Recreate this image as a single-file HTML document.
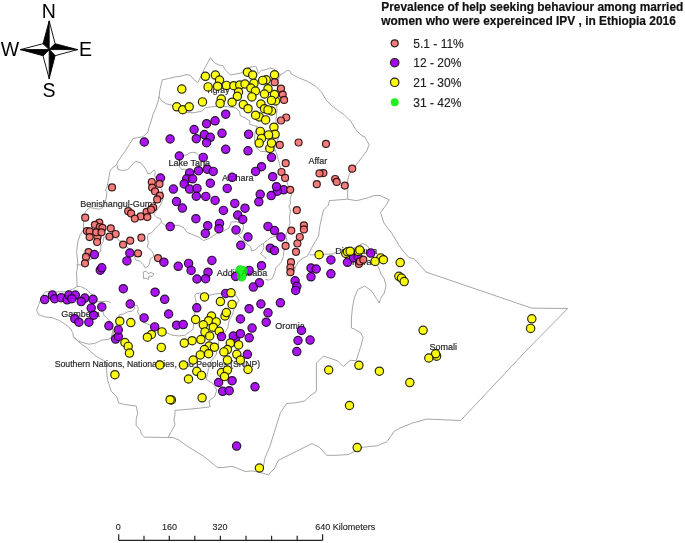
<!DOCTYPE html>
<html><head><meta charset="utf-8"><style>
html,body{margin:0;padding:0;background:#fff;width:685px;height:543px;overflow:hidden}
svg{position:absolute;left:0;top:0}
text{font-family:"Liberation Sans",Arial,sans-serif}
.d circle{opacity:.92}
</style></head><body>
<svg width="685" height="543" viewBox="0 0 685 543">
<g fill="none" stroke="#9c9c9c" stroke-width="0.9" stroke-linejoin="round">
<path d="M150.8,122.1 L153.0,114.7 L156.7,105.9 L158.7,98.9 L160.2,88.6 L162.4,79.8 L168.3,78.6 L175.7,76.8 L181.5,76.1 L186.0,74.6 L190.4,75.3 L193.3,79.0 L197.7,82.7 L202.2,73.9 L204.2,69.4 L210.3,57.7 L214.4,62.8 L219.5,65.3 L222.6,65.3 L225.7,70.4 L230.3,75.0 L235.9,74.0 L241.0,73.0 L244.5,71.0 L248.6,67.7 L254.3,66.4 L256.3,66.9 L258.4,73.5 L261.4,70.4 L265.0,69.9 L269.8,68.0 L273.3,68.8 L276.8,71.2 L280.4,74.7 L283.9,73.0 L286.2,70.7 L289.7,70.7 L291.5,74.2 L298.5,77.7 L307.2,81.2 L316.0,86.5 L321.2,91.7 L326.5,100.5 L331.7,105.7 L338.7,111.0 L343.9,114.5 L350.9,121.5 L356.2,130.2 L361.4,135.4 L364.9,137.2 L369.1,144.7 L366.9,150.6 L362.5,156.5 L358.1,162.4 L353.6,168.3 L349.2,174.2 L347.7,180.1 L347.7,188.9 L347.7,199.2 L356.6,200.7 L362.5,199.2 L368.4,197.7 L374.3,195.5 L380.0,195.5 L389.2,199.7 L386.4,204.8 L380.5,212.5 L383.8,222.8 L391.6,233.1 L396.0,240.0 L399.3,246.0 L403.6,251.5 L408.9,257.5 L414.2,258.8 L426.0,272.0 L531.5,308.1 L567.7,308.5 L526.9,350.0 L460.6,420.5 L426.4,419.1 L411.5,423.4 L400.0,428.0 L394.0,431.3 L390.5,436.6 L387.0,441.8 L380.0,444.5 L377.7,445.7 L363.1,447.2 L354.3,451.5 L348.5,454.5 L336.8,455.3 L326.6,455.3 L319.3,447.2 L312.0,443.6 L293.0,453.0 L278.4,460.3 L274.1,468.9 L270.2,472.9 L268.8,474.8 L263.6,473.5 L255.7,471.5 L251.8,470.9 L245.2,471.5 L237.3,468.3 L232.0,466.3 L222.9,467.6 L217.6,467.6 L203.1,455.8 L190.0,448.0 L182.5,442.8 L179.0,440.1 L172.9,437.5 L167.7,437.5 L144.4,437.1 L141.4,434.0 L140.5,430.5 L136.1,425.3 L136.2,419.2 L137.7,413.3 L136.2,406.0 L124.5,404.5 L118.6,403.0 L117.1,397.1 L111.2,391.2 L107.5,379.5 L106.6,370.7 L106.6,363.3 L103.6,360.4 L99.2,358.2 L94.8,355.2 L90.4,351.5 L86.0,347.1 L81.5,344.2 L77.1,340.5 L73.4,336.8 L72.7,332.4 L69.8,328.0 L65.3,324.3 L59.5,320.6 L52.1,317.7 L44.7,316.9 L38.8,314.7 L36.6,310.3 L38.8,304.4 L41.8,296.0 L45.3,291.8 L53.6,291.8 L59.4,291.8 L65.3,291.8 L72.4,289.4 L77.1,286.5 L76.6,272.9 L77.8,263.3 L76.6,251.3 L77.8,241.8 L80.2,234.6 L83.5,229.7 L83.5,224.0 L84.3,213.6 L86.6,210.3 L90.0,207.5 L95.0,208.5 L99.8,209.2 L102.0,208.0 L105.3,201.4 L106.4,197.0 L107.0,191.5 L105.3,190.4 L107.0,187.1 L108.1,181.6 L109.2,176.0 L109.7,171.6 L111.9,168.3 L116.4,165.0 L117.7,161.9 L120.6,157.4 L125.0,151.5 L129.5,144.2 L133.1,138.6 L137.6,137.6 L142.7,136.8 L147.9,132.4 L148.6,128.7 L150.8,122.1"/>
<path d="M158.8,96.5 L161.8,100.9 L166.2,103.8 L172.1,105.3 L179.5,111.2 L188.3,112.7 L194.2,112.7 L201.5,111.2 L206.0,107.5 L211.9,106.8 L219.2,106.0 L228.1,106.8 L236.0,108.0 L239.5,111.5 L240.4,115.9 L244.8,117.7 L250.1,121.2 L249.3,123.9 L253.7,125.6 L257.2,126.5 L255.0,133.0 L254.5,140.0 L256.0,147.0 L260.0,151.2 L267.1,151.8 L275.3,150.6"/>
<path d="M280.4,74.7 L278.0,80.0 L277.0,90.0 L276.0,100.0 L277.0,110.0 L276.0,120.0 L276.8,132.1 L279.2,135.7 L276.8,141.6 L274.5,148.6 L276.5,153.0 L277.7,157.7 L279.4,163.6 L280.6,168.3 L283.6,174.2 L286.5,180.0 L287.7,184.8 L290.6,189.5 L291.8,194.2 L290.0,198.9 L290.6,204.0 L288.8,205.3 L290.6,211.2 L289.4,217.1 L290.0,223.0 L288.8,227.7 L286.9,232.0 L285.8,235.1 L286.9,240.2 L285.8,245.4 L284.2,249.3 L283.3,256.3 L281.5,261.6 L279.4,264.3 L275.9,267.8 L274.7,272.5 L272.4,278.4 L268.9,280.1 L265.4,279.5"/>
<path d="M347.7,199.2 L329.5,200.6 L328.3,205.3 L323.6,210.0 L321.8,217.1 L320.0,225.3 L319.2,230.5 L318.6,236.0 L315.3,241.6 L312.0,247.1 L309.8,251.5 L307.6,255.9 L303.1,258.1 L298.7,261.5 L295.4,267.0 L294.3,271.4 L290.4,273.1 L287.7,274.9 L285.9,276.6"/>
<path d="M309.8,254.8 L314.2,254.8 L318.9,255.0 L326.0,254.1 L333.0,254.1 L338.3,250.6 L343.6,249.0 L352.0,249.0 L358.0,246.0 L362.4,243.5 L366.8,245.3 L369.4,248.8 L372.0,254.0 L375.4,263.0 L379.0,268.3 L380.7,273.6 L384.3,278.9 L386.0,286.0 L384.3,293.0 L380.7,298.3 L379.2,303.0 L376.3,298.3 L371.9,291.3 L364.8,286.0 L357.8,289.5 L354.2,298.3 L352.5,307.2 L351.4,318.0 L351.4,328.0 L354.2,329.0 L360.7,332.7 L363.1,337.4 L360.7,346.7 L356.1,360.7 L350.2,360.3 L343.2,366.6 L337.4,360.7 L323.4,356.1 L316.4,363.1 L316.4,377.1 L316.4,391.4 L309.2,396.5 L304.7,401.0 L295.9,402.8 L286.6,403.5 L280.4,412.7 L275.3,429.0 L270.2,445.4 L265.1,457.7 L263.1,467.9 L262.5,472.5"/>
<path d="M184.0,155.3 L187.0,154.9 L189.1,153.1 L192.1,152.4 L195.0,152.4 L197.2,153.8 L199.0,155.5 L203.0,158.0 L205.0,163.0 L204.0,168.0 L199.0,171.0 L193.0,172.0 L186.2,170.0 L184.0,168.9 L181.8,169.7 L180.3,167.8 L178.8,165.6 L179.5,161.0 L181.5,157.5 L184.0,155.3"/>
<path d="M116.9,164.9 L117.9,169.5 L122.5,170.5 L127.6,169.5 L130.7,166.5 L133.7,162.9 L135.8,161.3 L140.9,162.9 L142.9,165.4 L146.0,169.5 L148.0,174.1 L151.1,172.6 L154.2,170.0 L155.2,171.6 L154.7,175.7 L157.0,180.0 L160.0,186.0 L162.5,192.0 L163.0,199.0 L160.5,205.0 L157.0,210.0 L153.6,214.1 L157.1,217.7 L160.6,218.6 L161.5,222.1"/>
<path d="M161.5,222.1 L164.7,225.3 L171.8,225.3 L178.8,225.3 L183.6,227.7 L187.1,232.4 L193.0,234.8 L198.9,237.1 L203.6,240.6 L209.5,238.3 L216.5,233.6 L223.6,231.2 L229.1,227.8 L231.2,222.2 L236.3,221.6 L239.4,222.7 L243.6,224.7 L243.0,229.9 L241.5,233.0 L238.4,235.1 L243.0,240.0 L247.1,244.0 L250.6,246.6 L251.5,251.0 L255.0,250.1 L258.6,246.6 L262.1,244.0 L263.4,243.5 L263.9,247.5 L262.1,251.9 L260.3,253.7 L262.1,254.6 L264.7,257.2 L266.5,259.0"/>
<path d="M263.4,243.5 L270.0,238.0 L276.0,236.0 L282.0,235.0 L285.8,235.1"/>
<path d="M161.5,222.1 L158.9,224.7 L155.3,228.3 L151.8,232.7 L148.3,234.0 L147.4,238.0 L148.3,242.4 L147.4,247.1 L152.7,251.8 L153.9,256.5 L150.4,258.8 L149.2,264.7 L145.6,268.3 L143.3,264.7 L139.8,261.2 L135.9,260.0 L134.2,256.5 L128.0,248.0 L122.7,242.0 L119.2,240.6 L116.5,238.0 L110.0,237.5 L103.7,237.1 L103.3,241.5 L101.0,245.5 L100.6,251.2 L96.0,255.0 L90.0,260.0 L84.0,264.0 L81.0,265.0 L76.5,264.8"/>
<path d="M143.3,272.0 L146.0,271.2 L148.0,273.5 L151.0,272.5 L153.9,274.0 L152.0,276.5 L149.0,276.0 L148.5,279.5 L146.0,278.0 L143.5,278.5 L143.3,272.0"/>
<path d="M77.1,286.5 L80.6,286.5 L85.4,288.8 L91.2,293.6 L95.0,298.0 L97.7,301.8 L102.0,301.5 L106.5,301.2 L110.6,302.4"/>
<path d="M102.2,309.5 L102.4,310.6 L104.1,315.3 L106.5,317.7 L108.8,320.0 L111.0,324.0 L113.0,330.0 L111.0,338.3"/>
<path d="M73.4,336.8 L78.6,341.2 L83.0,342.7 L88.9,344.2 L94.8,343.4 L97.1,342.4 L101.8,340.1 L107.7,339.5 L111.0,338.3"/>
<path d="M111.0,338.3 L115.0,330.0 L117.0,322.0 L119.4,314.7 L123.0,314.2 L127.7,311.8 L132.4,311.2 L134.8,308.3 L133.6,305.3 L137.1,305.3 L138.3,308.3 L137.7,311.8 L139.5,315.3 L141.8,318.9 L143.5,322.4 L149.4,324.8 L153.0,327.1 L157.7,329.5 L167.1,333.0 L173.0,335.4 L178.9,335.9 L184.8,335.4 L189.5,331.8 L193.0,329.5 L193.6,324.8 L193.0,318.9 L194.2,314.2 L195.4,309.4 L196.5,303.6 L195.4,298.8 L194.8,295.3 L196.5,293.5 L200.1,293.0 L204.0,295.0 L209.5,295.3 L214.2,294.1 L220.0,293.5 L226.0,292.5 L232.0,293.0 L235.6,295.0 L237.4,297.7 L239.1,300.3 L237.4,303.0 L235.6,306.5 L233.8,310.0 L232.1,315.3 L229.4,319.8 L228.5,324.2 L227.7,328.0 L224.0,334.0 L219.0,340.0 L218.0,347.0 L216.0,355.0 L211.0,361.0 L208.6,368.6 L206.2,379.2 L213.3,383.9 L216.8,389.8 L214.7,396.4 L208.9,401.0 L210.1,406.9 L200.7,408.0 L189.1,409.2 L175.0,410.4 L175.0,415.0 L173.8,420.0 L175.1,424.4 L172.9,428.8 L170.3,433.1 L168.1,437.5"/>
</g>
<g font-size="9" fill="#2a2a2a" stroke="#2a2a2a" stroke-width="0.2">
<text x="308.4" y="163.6">Affar</text>
<text x="168.6" y="166.1">Lake Tana</text>
<text x="222" y="181.0">Amhara</text>
<text x="80.2" y="206.9">Benishangul-Gumz</text>
<text x="216.8" y="275.9">Addis Ababa</text>
<text x="275.3" y="329.2">Oromia</text>
<text x="61.2" y="317.1">Gambella</text>
<text x="54.7" y="367.4" textLength="205.5" lengthAdjust="spacingAndGlyphs">Southern Nations, Nationalities, and Peoples (SNNP)</text>
<text x="429.6" y="349.6">Somali</text>
<text x="335.3" y="254.1">Dire Dawa</text>
<text x="352" y="265.1">Harari</text>
<text x="205.9" y="92.9" font-size="8.6">Tigray</text>
</g>
<g stroke-width="1.2" class="d">
<circle cx="205.4" cy="76.3" r="4.15" fill="#FFFF00" stroke="#1a1a00"/>
<circle cx="215.4" cy="75.1" r="4.15" fill="#FFFF00" stroke="#1a1a00"/>
<circle cx="219.5" cy="80.0" r="4.15" fill="#FFFF00" stroke="#1a1a00"/>
<circle cx="208.1" cy="86.9" r="4.15" fill="#FFFF00" stroke="#1a1a00"/>
<circle cx="217.6" cy="86.2" r="4.15" fill="#FFFF00" stroke="#1a1a00"/>
<circle cx="226.5" cy="85.4" r="4.15" fill="#FFFF00" stroke="#1a1a00"/>
<circle cx="181.8" cy="89.1" r="4.15" fill="#FFFF00" stroke="#1a1a00"/>
<circle cx="202.5" cy="101.9" r="4.15" fill="#FFFF00" stroke="#1a1a00"/>
<circle cx="221.3" cy="99.0" r="4.15" fill="#FFFF00" stroke="#1a1a00"/>
<circle cx="220.1" cy="103.4" r="4.15" fill="#FFFF00" stroke="#1a1a00"/>
<circle cx="176.8" cy="106.8" r="4.15" fill="#FFFF00" stroke="#1a1a00"/>
<circle cx="182.7" cy="109.7" r="4.15" fill="#FFFF00" stroke="#1a1a00"/>
<circle cx="189.2" cy="106.8" r="4.15" fill="#FFFF00" stroke="#1a1a00"/>
<circle cx="225.7" cy="114.2" r="4.15" fill="#A400F2" stroke="#1a0026"/>
<circle cx="215.1" cy="120.8" r="4.15" fill="#A400F2" stroke="#1a0026"/>
<circle cx="206.6" cy="123.7" r="4.15" fill="#A400F2" stroke="#1a0026"/>
<circle cx="194.1" cy="129.6" r="4.15" fill="#A400F2" stroke="#1a0026"/>
<circle cx="222" cy="133.3" r="4.15" fill="#A400F2" stroke="#1a0026"/>
<circle cx="247.4" cy="72.2" r="4.15" fill="#FFFF00" stroke="#1a1a00"/>
<circle cx="252.7" cy="75.1" r="4.15" fill="#FFFF00" stroke="#1a1a00"/>
<circle cx="274.5" cy="74.8" r="4.15" fill="#FFFF00" stroke="#1a1a00"/>
<circle cx="266.2" cy="79.8" r="4.15" fill="#FFFF00" stroke="#1a1a00"/>
<circle cx="262.7" cy="80.4" r="4.15" fill="#FFFF00" stroke="#1a1a00"/>
<circle cx="233.8" cy="85.7" r="4.15" fill="#FFFF00" stroke="#1a1a00"/>
<circle cx="239.7" cy="85.1" r="4.15" fill="#FFFF00" stroke="#1a1a00"/>
<circle cx="245" cy="84.0" r="4.15" fill="#FFFF00" stroke="#1a1a00"/>
<circle cx="253.9" cy="83.4" r="4.15" fill="#FFFF00" stroke="#1a1a00"/>
<circle cx="250.9" cy="88.1" r="4.15" fill="#FFFF00" stroke="#1a1a00"/>
<circle cx="255.4" cy="91.0" r="4.15" fill="#FFFF00" stroke="#1a1a00"/>
<circle cx="238.5" cy="92.0" r="4.15" fill="#FFFF00" stroke="#1a1a00"/>
<circle cx="237.4" cy="96.3" r="4.15" fill="#FFFF00" stroke="#1a1a00"/>
<circle cx="251.9" cy="96.9" r="4.15" fill="#FFFF00" stroke="#1a1a00"/>
<circle cx="268" cy="88.7" r="4.15" fill="#FFFF00" stroke="#1a1a00"/>
<circle cx="264.5" cy="94.0" r="4.15" fill="#FFFF00" stroke="#1a1a00"/>
<circle cx="275.6" cy="101.0" r="4.15" fill="#FFFF00" stroke="#1a1a00"/>
<circle cx="274.5" cy="94.6" r="4.15" fill="#FFFF00" stroke="#1a1a00"/>
<circle cx="271.5" cy="100.4" r="4.15" fill="#FFFF00" stroke="#1a1a00"/>
<circle cx="232.1" cy="102.2" r="4.15" fill="#FFFF00" stroke="#1a1a00"/>
<circle cx="243.3" cy="104.6" r="4.15" fill="#FFFF00" stroke="#1a1a00"/>
<circle cx="248" cy="108.7" r="4.15" fill="#FFFF00" stroke="#1a1a00"/>
<circle cx="260.9" cy="104.0" r="4.15" fill="#FFFF00" stroke="#1a1a00"/>
<circle cx="271.5" cy="111.0" r="4.15" fill="#FFFF00" stroke="#1a1a00"/>
<circle cx="264.5" cy="108.7" r="4.15" fill="#FFFF00" stroke="#1a1a00"/>
<circle cx="268" cy="109.9" r="4.15" fill="#FFFF00" stroke="#1a1a00"/>
<circle cx="259.2" cy="116.9" r="4.15" fill="#FFFF00" stroke="#1a1a00"/>
<circle cx="255.6" cy="115.2" r="4.15" fill="#FFFF00" stroke="#1a1a00"/>
<circle cx="265.6" cy="119.9" r="4.15" fill="#FFFF00" stroke="#1a1a00"/>
<circle cx="274.7" cy="82.2" r="3.5" fill="#F77272" stroke="#2a0c0c"/>
<circle cx="281" cy="88.7" r="3.5" fill="#F77272" stroke="#2a0c0c"/>
<circle cx="282.7" cy="94.6" r="3.5" fill="#F77272" stroke="#2a0c0c"/>
<circle cx="284.1" cy="99.9" r="3.5" fill="#F77272" stroke="#2a0c0c"/>
<circle cx="286.2" cy="117.5" r="3.5" fill="#F77272" stroke="#2a0c0c"/>
<circle cx="281" cy="120.5" r="3.5" fill="#F77272" stroke="#2a0c0c"/>
<circle cx="204.4" cy="134.6" r="4.15" fill="#A400F2" stroke="#1a0026"/>
<circle cx="210.3" cy="137.3" r="4.15" fill="#A400F2" stroke="#1a0026"/>
<circle cx="196.3" cy="138.7" r="4.15" fill="#A400F2" stroke="#1a0026"/>
<circle cx="206.6" cy="142.7" r="4.15" fill="#A400F2" stroke="#1a0026"/>
<circle cx="170.1" cy="139.0" r="4.15" fill="#A400F2" stroke="#1a0026"/>
<circle cx="144.3" cy="142.0" r="4.15" fill="#A400F2" stroke="#1a0026"/>
<circle cx="225.7" cy="149.3" r="4.15" fill="#A400F2" stroke="#1a0026"/>
<circle cx="179.3" cy="156.0" r="4.15" fill="#A400F2" stroke="#1a0026"/>
<circle cx="203.2" cy="157.4" r="4.15" fill="#A400F2" stroke="#1a0026"/>
<circle cx="207.3" cy="169.2" r="4.15" fill="#A400F2" stroke="#1a0026"/>
<circle cx="213.2" cy="171.4" r="4.15" fill="#A400F2" stroke="#1a0026"/>
<circle cx="198.5" cy="170.7" r="4.15" fill="#A400F2" stroke="#1a0026"/>
<circle cx="189.6" cy="172.9" r="4.15" fill="#A400F2" stroke="#1a0026"/>
<circle cx="186.7" cy="178.8" r="4.15" fill="#A400F2" stroke="#1a0026"/>
<circle cx="192.6" cy="178.8" r="4.15" fill="#A400F2" stroke="#1a0026"/>
<circle cx="184.2" cy="183.9" r="4.15" fill="#A400F2" stroke="#1a0026"/>
<circle cx="160.5" cy="178.0" r="4.15" fill="#A400F2" stroke="#1a0026"/>
<circle cx="210.3" cy="183.2" r="4.15" fill="#A400F2" stroke="#1a0026"/>
<circle cx="189.6" cy="189.1" r="4.15" fill="#A400F2" stroke="#1a0026"/>
<circle cx="197" cy="188.4" r="4.15" fill="#A400F2" stroke="#1a0026"/>
<circle cx="173.4" cy="189.1" r="4.15" fill="#A400F2" stroke="#1a0026"/>
<circle cx="227.2" cy="188.4" r="4.15" fill="#A400F2" stroke="#1a0026"/>
<circle cx="151.8" cy="182.0" r="3.5" fill="#F77272" stroke="#2a0c0c"/>
<circle cx="159.5" cy="183.9" r="3.5" fill="#F77272" stroke="#2a0c0c"/>
<circle cx="152.1" cy="187.6" r="3.5" fill="#F77272" stroke="#2a0c0c"/>
<circle cx="155" cy="191.3" r="3.5" fill="#F77272" stroke="#2a0c0c"/>
<circle cx="273.9" cy="127.2" r="4.15" fill="#FFFF00" stroke="#1a1a00"/>
<circle cx="275.1" cy="134.3" r="4.15" fill="#FFFF00" stroke="#1a1a00"/>
<circle cx="268.6" cy="134.9" r="4.15" fill="#FFFF00" stroke="#1a1a00"/>
<circle cx="260.3" cy="131.4" r="4.15" fill="#FFFF00" stroke="#1a1a00"/>
<circle cx="261.5" cy="138.4" r="4.15" fill="#FFFF00" stroke="#1a1a00"/>
<circle cx="259.2" cy="143.1" r="4.15" fill="#FFFF00" stroke="#1a1a00"/>
<circle cx="269.8" cy="148.4" r="4.15" fill="#FFFF00" stroke="#1a1a00"/>
<circle cx="271.5" cy="143.1" r="4.15" fill="#FFFF00" stroke="#1a1a00"/>
<circle cx="279.8" cy="144.9" r="3.5" fill="#F77272" stroke="#2a0c0c"/>
<circle cx="298.6" cy="142.5" r="3.5" fill="#F77272" stroke="#2a0c0c"/>
<circle cx="285.7" cy="163.2" r="3.5" fill="#F77272" stroke="#2a0c0c"/>
<circle cx="281.5" cy="172.0" r="3.5" fill="#F77272" stroke="#2a0c0c"/>
<circle cx="285.1" cy="177.9" r="3.5" fill="#F77272" stroke="#2a0c0c"/>
<circle cx="248.6" cy="134.3" r="4.15" fill="#A400F2" stroke="#1a0026"/>
<circle cx="248" cy="150.8" r="4.15" fill="#A400F2" stroke="#1a0026"/>
<circle cx="271.5" cy="157.3" r="4.15" fill="#A400F2" stroke="#1a0026"/>
<circle cx="261.5" cy="166.7" r="4.15" fill="#A400F2" stroke="#1a0026"/>
<circle cx="255.6" cy="171.4" r="4.15" fill="#A400F2" stroke="#1a0026"/>
<circle cx="272.7" cy="176.7" r="4.15" fill="#A400F2" stroke="#1a0026"/>
<circle cx="232.1" cy="177.3" r="4.15" fill="#A400F2" stroke="#1a0026"/>
<circle cx="326" cy="143.9" r="3.5" fill="#F77272" stroke="#2a0c0c"/>
<circle cx="352.2" cy="168.7" r="3.5" fill="#F77272" stroke="#2a0c0c"/>
<circle cx="323.4" cy="173.1" r="3.5" fill="#F77272" stroke="#2a0c0c"/>
<circle cx="319.5" cy="173.4" r="3.5" fill="#F77272" stroke="#2a0c0c"/>
<circle cx="316.8" cy="184.2" r="3.5" fill="#F77272" stroke="#2a0c0c"/>
<circle cx="335.2" cy="179.0" r="3.5" fill="#F77272" stroke="#2a0c0c"/>
<circle cx="336.7" cy="181.9" r="3.5" fill="#F77272" stroke="#2a0c0c"/>
<circle cx="344.8" cy="185.6" r="3.5" fill="#F77272" stroke="#2a0c0c"/>
<circle cx="283.6" cy="189.8" r="4.15" fill="#A400F2" stroke="#1a0026"/>
<circle cx="277.4" cy="191.2" r="4.15" fill="#A400F2" stroke="#1a0026"/>
<circle cx="276.5" cy="186.7" r="4.15" fill="#A400F2" stroke="#1a0026"/>
<circle cx="271.2" cy="195.6" r="4.15" fill="#A400F2" stroke="#1a0026"/>
<circle cx="260.2" cy="194.3" r="4.15" fill="#A400F2" stroke="#1a0026"/>
<circle cx="258.8" cy="201.8" r="4.15" fill="#A400F2" stroke="#1a0026"/>
<circle cx="290.2" cy="189.8" r="3.5" fill="#F77272" stroke="#2a0c0c"/>
<circle cx="296.8" cy="210.2" r="3.5" fill="#F77272" stroke="#2a0c0c"/>
<circle cx="159.8" cy="195.7" r="3.5" fill="#F77272" stroke="#2a0c0c"/>
<circle cx="157.2" cy="199.4" r="3.5" fill="#F77272" stroke="#2a0c0c"/>
<circle cx="112" cy="187.4" r="3.5" fill="#F77272" stroke="#2a0c0c"/>
<circle cx="153.2" cy="207.5" r="3.5" fill="#F77272" stroke="#2a0c0c"/>
<circle cx="146.6" cy="211.9" r="3.5" fill="#F77272" stroke="#2a0c0c"/>
<circle cx="151" cy="209.7" r="3.5" fill="#F77272" stroke="#2a0c0c"/>
<circle cx="128.2" cy="211.2" r="3.5" fill="#F77272" stroke="#2a0c0c"/>
<circle cx="131.1" cy="213.4" r="3.5" fill="#F77272" stroke="#2a0c0c"/>
<circle cx="140.7" cy="216.4" r="3.5" fill="#F77272" stroke="#2a0c0c"/>
<circle cx="147.3" cy="217.1" r="3.5" fill="#F77272" stroke="#2a0c0c"/>
<circle cx="134.8" cy="218.6" r="3.5" fill="#F77272" stroke="#2a0c0c"/>
<circle cx="141.4" cy="237.7" r="3.5" fill="#F77272" stroke="#2a0c0c"/>
<circle cx="85.2" cy="217.7" r="3.5" fill="#F77272" stroke="#2a0c0c"/>
<circle cx="99.3" cy="222.6" r="3.5" fill="#F77272" stroke="#2a0c0c"/>
<circle cx="94.9" cy="224.8" r="3.5" fill="#F77272" stroke="#2a0c0c"/>
<circle cx="99.7" cy="227.0" r="3.5" fill="#F77272" stroke="#2a0c0c"/>
<circle cx="102.4" cy="227.9" r="3.5" fill="#F77272" stroke="#2a0c0c"/>
<circle cx="86.9" cy="231.0" r="3.5" fill="#F77272" stroke="#2a0c0c"/>
<circle cx="89.6" cy="231.4" r="3.5" fill="#F77272" stroke="#2a0c0c"/>
<circle cx="89.6" cy="237.1" r="3.5" fill="#F77272" stroke="#2a0c0c"/>
<circle cx="97.5" cy="237.1" r="3.5" fill="#F77272" stroke="#2a0c0c"/>
<circle cx="97.1" cy="242.0" r="3.5" fill="#F77272" stroke="#2a0c0c"/>
<circle cx="96.2" cy="232.3" r="3.5" fill="#F77272" stroke="#2a0c0c"/>
<circle cx="101.5" cy="232.3" r="3.5" fill="#F77272" stroke="#2a0c0c"/>
<circle cx="110.8" cy="228.3" r="3.5" fill="#F77272" stroke="#2a0c0c"/>
<circle cx="115.6" cy="234.0" r="3.5" fill="#F77272" stroke="#2a0c0c"/>
<circle cx="109.5" cy="236.7" r="3.5" fill="#F77272" stroke="#2a0c0c"/>
<circle cx="123.1" cy="244.6" r="3.5" fill="#F77272" stroke="#2a0c0c"/>
<circle cx="130.2" cy="240.7" r="3.5" fill="#F77272" stroke="#2a0c0c"/>
<circle cx="88.5" cy="252.2" r="3.5" fill="#F77272" stroke="#2a0c0c"/>
<circle cx="86" cy="256.9" r="3.5" fill="#F77272" stroke="#2a0c0c"/>
<circle cx="85" cy="263.3" r="3.5" fill="#F77272" stroke="#2a0c0c"/>
<circle cx="94.4" cy="254.6" r="4.15" fill="#A400F2" stroke="#1a0026"/>
<circle cx="129.8" cy="253.0" r="4.15" fill="#A400F2" stroke="#1a0026"/>
<circle cx="126.9" cy="260.9" r="4.15" fill="#A400F2" stroke="#1a0026"/>
<circle cx="170.2" cy="226.6" r="4.15" fill="#A400F2" stroke="#1a0026"/>
<circle cx="196.3" cy="196.2" r="4.15" fill="#A400F2" stroke="#1a0026"/>
<circle cx="205.8" cy="196.4" r="4.15" fill="#A400F2" stroke="#1a0026"/>
<circle cx="215.1" cy="200.4" r="4.15" fill="#A400F2" stroke="#1a0026"/>
<circle cx="176.5" cy="201.6" r="4.15" fill="#A400F2" stroke="#1a0026"/>
<circle cx="182.4" cy="208.1" r="4.15" fill="#A400F2" stroke="#1a0026"/>
<circle cx="223.4" cy="210.4" r="4.15" fill="#A400F2" stroke="#1a0026"/>
<circle cx="234.8" cy="203.4" r="4.15" fill="#A400F2" stroke="#1a0026"/>
<circle cx="237.7" cy="215.1" r="4.15" fill="#A400F2" stroke="#1a0026"/>
<circle cx="195.9" cy="218.7" r="4.15" fill="#A400F2" stroke="#1a0026"/>
<circle cx="207.7" cy="225.7" r="4.15" fill="#A400F2" stroke="#1a0026"/>
<circle cx="219.5" cy="223.4" r="4.15" fill="#A400F2" stroke="#1a0026"/>
<circle cx="218.9" cy="228.7" r="4.15" fill="#A400F2" stroke="#1a0026"/>
<circle cx="205.3" cy="233.4" r="4.15" fill="#A400F2" stroke="#1a0026"/>
<circle cx="236" cy="229.9" r="4.15" fill="#A400F2" stroke="#1a0026"/>
<circle cx="240.8" cy="245.3" r="4.15" fill="#A400F2" stroke="#1a0026"/>
<circle cx="245" cy="208.2" r="4.15" fill="#A400F2" stroke="#1a0026"/>
<circle cx="242.7" cy="219.4" r="4.15" fill="#A400F2" stroke="#1a0026"/>
<circle cx="248" cy="237.0" r="4.15" fill="#A400F2" stroke="#1a0026"/>
<circle cx="268" cy="226.4" r="4.15" fill="#A400F2" stroke="#1a0026"/>
<circle cx="274.5" cy="230.6" r="4.15" fill="#A400F2" stroke="#1a0026"/>
<circle cx="280.9" cy="237.0" r="4.15" fill="#A400F2" stroke="#1a0026"/>
<circle cx="270.3" cy="248.2" r="4.15" fill="#A400F2" stroke="#1a0026"/>
<circle cx="274.5" cy="250.6" r="4.15" fill="#A400F2" stroke="#1a0026"/>
<circle cx="291.3" cy="230.6" r="3.5" fill="#F77272" stroke="#2a0c0c"/>
<circle cx="303.9" cy="225.3" r="3.5" fill="#F77272" stroke="#2a0c0c"/>
<circle cx="303.9" cy="229.4" r="3.5" fill="#F77272" stroke="#2a0c0c"/>
<circle cx="299.8" cy="237.0" r="3.5" fill="#F77272" stroke="#2a0c0c"/>
<circle cx="297.4" cy="243.5" r="3.5" fill="#F77272" stroke="#2a0c0c"/>
<circle cx="285.6" cy="245.9" r="3.5" fill="#F77272" stroke="#2a0c0c"/>
<circle cx="296" cy="251.8" r="3.5" fill="#F77272" stroke="#2a0c0c"/>
<circle cx="291" cy="262.2" r="3.5" fill="#F77272" stroke="#2a0c0c"/>
<circle cx="330.9" cy="259.9" r="4.15" fill="#A400F2" stroke="#1a0026"/>
<circle cx="311" cy="268.0" r="4.15" fill="#A400F2" stroke="#1a0026"/>
<circle cx="316.2" cy="269.0" r="4.15" fill="#A400F2" stroke="#1a0026"/>
<circle cx="311" cy="276.8" r="4.15" fill="#A400F2" stroke="#1a0026"/>
<circle cx="330.9" cy="273.8" r="4.15" fill="#A400F2" stroke="#1a0026"/>
<circle cx="319.1" cy="254.7" r="4.15" fill="#FFFF00" stroke="#1a1a00"/>
<circle cx="347.5" cy="262.3" r="4.15" fill="#A400F2" stroke="#1a0026"/>
<circle cx="353.6" cy="257.9" r="4.15" fill="#A400F2" stroke="#1a0026"/>
<circle cx="358" cy="257.0" r="4.15" fill="#A400F2" stroke="#1a0026"/>
<circle cx="370.7" cy="253.1" r="4.15" fill="#A400F2" stroke="#1a0026"/>
<circle cx="345.8" cy="253.5" r="4.15" fill="#FFFF00" stroke="#1a1a00"/>
<circle cx="347.5" cy="251.8" r="4.15" fill="#FFFF00" stroke="#1a1a00"/>
<circle cx="350.1" cy="251.3" r="4.15" fill="#FFFF00" stroke="#1a1a00"/>
<circle cx="358.5" cy="251.4" r="4.15" fill="#FFFF00" stroke="#1a1a00"/>
<circle cx="359.8" cy="250.0" r="4.15" fill="#FFFF00" stroke="#1a1a00"/>
<circle cx="358.9" cy="264.0" r="3.5" fill="#F77272" stroke="#2a0c0c"/>
<circle cx="359.8" cy="261.4" r="3.5" fill="#F77272" stroke="#2a0c0c"/>
<circle cx="363.3" cy="259.7" r="3.5" fill="#F77272" stroke="#2a0c0c"/>
<circle cx="380.8" cy="257.9" r="4.15" fill="#FFFF00" stroke="#1a1a00"/>
<circle cx="375.1" cy="261.4" r="4.15" fill="#FFFF00" stroke="#1a1a00"/>
<circle cx="383.4" cy="259.7" r="4.15" fill="#FFFF00" stroke="#1a1a00"/>
<circle cx="400.2" cy="262.6" r="4.15" fill="#FFFF00" stroke="#1a1a00"/>
<circle cx="398.9" cy="276.3" r="4.15" fill="#FFFF00" stroke="#1a1a00"/>
<circle cx="401.5" cy="278.1" r="4.15" fill="#FFFF00" stroke="#1a1a00"/>
<circle cx="404.2" cy="281.6" r="4.15" fill="#FFFF00" stroke="#1a1a00"/>
<circle cx="531.8" cy="318.8" r="4.15" fill="#FFFF00" stroke="#1a1a00"/>
<circle cx="530.6" cy="328.4" r="4.15" fill="#FFFF00" stroke="#1a1a00"/>
<circle cx="423.1" cy="330.3" r="4.15" fill="#FFFF00" stroke="#1a1a00"/>
<circle cx="436.6" cy="356.2" r="4.15" fill="#FFFF00" stroke="#1a1a00"/>
<circle cx="435.6" cy="353.8" r="4.15" fill="#FFFF00" stroke="#1a1a00"/>
<circle cx="428.8" cy="358.0" r="4.15" fill="#FFFF00" stroke="#1a1a00"/>
<circle cx="328.7" cy="370.0" r="4.15" fill="#FFFF00" stroke="#1a1a00"/>
<circle cx="358.9" cy="365.3" r="4.15" fill="#FFFF00" stroke="#1a1a00"/>
<circle cx="379.4" cy="371.2" r="4.15" fill="#FFFF00" stroke="#1a1a00"/>
<circle cx="409.8" cy="382.6" r="4.15" fill="#FFFF00" stroke="#1a1a00"/>
<circle cx="349.5" cy="405.5" r="4.15" fill="#FFFF00" stroke="#1a1a00"/>
<circle cx="357.2" cy="447.6" r="4.15" fill="#FFFF00" stroke="#1a1a00"/>
<circle cx="259.4" cy="468.0" r="4.15" fill="#FFFF00" stroke="#1a1a00"/>
<circle cx="255" cy="386.8" r="4.15" fill="#A400F2" stroke="#1a0026"/>
<circle cx="236.6" cy="446.1" r="4.15" fill="#A400F2" stroke="#1a0026"/>
<circle cx="44.7" cy="299.6" r="4.15" fill="#A400F2" stroke="#1a0026"/>
<circle cx="52.4" cy="295.1" r="4.15" fill="#A400F2" stroke="#1a0026"/>
<circle cx="54.7" cy="298.7" r="4.15" fill="#A400F2" stroke="#1a0026"/>
<circle cx="61.2" cy="297.7" r="4.15" fill="#A400F2" stroke="#1a0026"/>
<circle cx="67.1" cy="299.8" r="4.15" fill="#A400F2" stroke="#1a0026"/>
<circle cx="68.9" cy="295.1" r="4.15" fill="#A400F2" stroke="#1a0026"/>
<circle cx="75.3" cy="295.1" r="4.15" fill="#A400F2" stroke="#1a0026"/>
<circle cx="71.8" cy="298.7" r="4.15" fill="#A400F2" stroke="#1a0026"/>
<circle cx="84.8" cy="298.1" r="4.15" fill="#A400F2" stroke="#1a0026"/>
<circle cx="81.2" cy="301.6" r="4.15" fill="#A400F2" stroke="#1a0026"/>
<circle cx="93" cy="299.3" r="4.15" fill="#A400F2" stroke="#1a0026"/>
<circle cx="91.2" cy="308.1" r="4.15" fill="#A400F2" stroke="#1a0026"/>
<circle cx="101.8" cy="306.9" r="4.15" fill="#A400F2" stroke="#1a0026"/>
<circle cx="93.6" cy="315.2" r="4.15" fill="#A400F2" stroke="#1a0026"/>
<circle cx="74.8" cy="318.7" r="4.15" fill="#A400F2" stroke="#1a0026"/>
<circle cx="78.9" cy="322.2" r="4.15" fill="#A400F2" stroke="#1a0026"/>
<circle cx="88.9" cy="322.2" r="4.15" fill="#A400F2" stroke="#1a0026"/>
<circle cx="100.3" cy="270.2" r="4.15" fill="#A400F2" stroke="#1a0026"/>
<circle cx="108.9" cy="325.8" r="4.15" fill="#A400F2" stroke="#1a0026"/>
<circle cx="138" cy="253.4" r="3.5" fill="#F77272" stroke="#2a0c0c"/>
<circle cx="158" cy="258.1" r="3.5" fill="#F77272" stroke="#2a0c0c"/>
<circle cx="101.8" cy="267.8" r="4.15" fill="#A400F2" stroke="#1a0026"/>
<circle cx="163.9" cy="262.2" r="4.15" fill="#A400F2" stroke="#1a0026"/>
<circle cx="123.3" cy="288.7" r="4.15" fill="#A400F2" stroke="#1a0026"/>
<circle cx="155.1" cy="292.2" r="4.15" fill="#A400F2" stroke="#1a0026"/>
<circle cx="164.7" cy="299.3" r="4.15" fill="#A400F2" stroke="#1a0026"/>
<circle cx="178.2" cy="266.3" r="4.15" fill="#A400F2" stroke="#1a0026"/>
<circle cx="188.6" cy="263.4" r="4.15" fill="#A400F2" stroke="#1a0026"/>
<circle cx="191.1" cy="270.4" r="4.15" fill="#A400F2" stroke="#1a0026"/>
<circle cx="211.9" cy="260.4" r="4.15" fill="#A400F2" stroke="#1a0026"/>
<circle cx="208" cy="272.2" r="4.15" fill="#A400F2" stroke="#1a0026"/>
<circle cx="205.6" cy="278.7" r="4.15" fill="#A400F2" stroke="#1a0026"/>
<circle cx="197" cy="279.0" r="4.15" fill="#A400F2" stroke="#1a0026"/>
<circle cx="235.7" cy="276.4" r="4.15" fill="#A400F2" stroke="#1a0026"/>
<circle cx="249.1" cy="270.4" r="4.15" fill="#A400F2" stroke="#1a0026"/>
<circle cx="225.7" cy="293.4" r="4.15" fill="#A400F2" stroke="#1a0026"/>
<circle cx="261.5" cy="265.7" r="4.15" fill="#A400F2" stroke="#1a0026"/>
<circle cx="259.4" cy="282.8" r="4.15" fill="#A400F2" stroke="#1a0026"/>
<circle cx="253.3" cy="287.1" r="4.15" fill="#A400F2" stroke="#1a0026"/>
<circle cx="295.1" cy="280.8" r="4.15" fill="#A400F2" stroke="#1a0026"/>
<circle cx="296.8" cy="286.3" r="4.15" fill="#A400F2" stroke="#1a0026"/>
<circle cx="295.7" cy="290.4" r="4.15" fill="#A400F2" stroke="#1a0026"/>
<circle cx="260.9" cy="304.0" r="4.15" fill="#A400F2" stroke="#1a0026"/>
<circle cx="249.1" cy="308.7" r="4.15" fill="#A400F2" stroke="#1a0026"/>
<circle cx="280.4" cy="302.8" r="4.15" fill="#A400F2" stroke="#1a0026"/>
<circle cx="268" cy="312.8" r="4.15" fill="#A400F2" stroke="#1a0026"/>
<circle cx="290.4" cy="267.5" r="3.5" fill="#F77272" stroke="#2a0c0c"/>
<circle cx="290.4" cy="272.2" r="3.5" fill="#F77272" stroke="#2a0c0c"/>
<circle cx="204.5" cy="296.9" r="4.15" fill="#FFFF00" stroke="#1a1a00"/>
<circle cx="231" cy="292.8" r="4.15" fill="#FFFF00" stroke="#1a1a00"/>
<circle cx="220.4" cy="301.6" r="4.15" fill="#FFFF00" stroke="#1a1a00"/>
<circle cx="232.1" cy="304.4" r="4.15" fill="#FFFF00" stroke="#1a1a00"/>
<circle cx="225" cy="316.0" r="4.15" fill="#FFFF00" stroke="#1a1a00"/>
<circle cx="196.8" cy="307.8" r="4.15" fill="#A400F2" stroke="#1a0026"/>
<circle cx="240.4" cy="319.0" r="4.15" fill="#A400F2" stroke="#1a0026"/>
<circle cx="252.1" cy="328.1" r="4.15" fill="#A400F2" stroke="#1a0026"/>
<circle cx="249.2" cy="337.8" r="4.15" fill="#A400F2" stroke="#1a0026"/>
<circle cx="247.4" cy="354.3" r="4.15" fill="#A400F2" stroke="#1a0026"/>
<circle cx="226.4" cy="312.6" r="4.15" fill="#FFFF00" stroke="#1a1a00"/>
<circle cx="195.6" cy="319.5" r="4.15" fill="#FFFF00" stroke="#1a1a00"/>
<circle cx="211.5" cy="316.0" r="4.15" fill="#FFFF00" stroke="#1a1a00"/>
<circle cx="208.6" cy="320.7" r="4.15" fill="#FFFF00" stroke="#1a1a00"/>
<circle cx="203.3" cy="324.8" r="4.15" fill="#FFFF00" stroke="#1a1a00"/>
<circle cx="216.2" cy="321.9" r="4.15" fill="#FFFF00" stroke="#1a1a00"/>
<circle cx="213.3" cy="327.2" r="4.15" fill="#FFFF00" stroke="#1a1a00"/>
<circle cx="219.2" cy="331.3" r="4.15" fill="#FFFF00" stroke="#1a1a00"/>
<circle cx="205" cy="331.9" r="4.15" fill="#FFFF00" stroke="#1a1a00"/>
<circle cx="209.7" cy="336.0" r="4.15" fill="#FFFF00" stroke="#1a1a00"/>
<circle cx="192.1" cy="340.7" r="4.15" fill="#FFFF00" stroke="#1a1a00"/>
<circle cx="200.9" cy="339.6" r="4.15" fill="#FFFF00" stroke="#1a1a00"/>
<circle cx="184.3" cy="343.1" r="4.15" fill="#FFFF00" stroke="#1a1a00"/>
<circle cx="209.1" cy="346.0" r="4.15" fill="#FFFF00" stroke="#1a1a00"/>
<circle cx="214.4" cy="347.2" r="4.15" fill="#FFFF00" stroke="#1a1a00"/>
<circle cx="204.4" cy="349.6" r="4.15" fill="#FFFF00" stroke="#1a1a00"/>
<circle cx="208.6" cy="353.7" r="4.15" fill="#FFFF00" stroke="#1a1a00"/>
<circle cx="200.3" cy="354.9" r="4.15" fill="#FFFF00" stroke="#1a1a00"/>
<circle cx="235.2" cy="339.4" r="4.15" fill="#A400F2" stroke="#1a0026"/>
<circle cx="221.5" cy="336.6" r="4.15" fill="#A400F2" stroke="#1a0026"/>
<circle cx="233.3" cy="336.0" r="4.15" fill="#A400F2" stroke="#1a0026"/>
<circle cx="240.4" cy="333.7" r="4.15" fill="#A400F2" stroke="#1a0026"/>
<circle cx="230.3" cy="343.1" r="4.15" fill="#FFFF00" stroke="#1a1a00"/>
<circle cx="238.6" cy="344.9" r="4.15" fill="#FFFF00" stroke="#1a1a00"/>
<circle cx="227.4" cy="349.6" r="4.15" fill="#FFFF00" stroke="#1a1a00"/>
<circle cx="223.9" cy="351.9" r="4.15" fill="#FFFF00" stroke="#1a1a00"/>
<circle cx="236.8" cy="354.3" r="4.15" fill="#FFFF00" stroke="#1a1a00"/>
<circle cx="193.2" cy="360.1" r="4.15" fill="#FFFF00" stroke="#1a1a00"/>
<circle cx="196.8" cy="371.3" r="4.15" fill="#FFFF00" stroke="#1a1a00"/>
<circle cx="201.5" cy="375.4" r="4.15" fill="#FFFF00" stroke="#1a1a00"/>
<circle cx="188.5" cy="379.0" r="4.15" fill="#FFFF00" stroke="#1a1a00"/>
<circle cx="240.4" cy="360.1" r="4.15" fill="#FFFF00" stroke="#1a1a00"/>
<circle cx="227.4" cy="360.1" r="4.15" fill="#FFFF00" stroke="#1a1a00"/>
<circle cx="221.5" cy="372.5" r="4.15" fill="#FFFF00" stroke="#1a1a00"/>
<circle cx="227.4" cy="370.1" r="4.15" fill="#FFFF00" stroke="#1a1a00"/>
<circle cx="224.5" cy="376.6" r="4.15" fill="#FFFF00" stroke="#1a1a00"/>
<circle cx="248" cy="369.5" r="4.15" fill="#FFFF00" stroke="#1a1a00"/>
<circle cx="202.1" cy="397.8" r="4.15" fill="#FFFF00" stroke="#1a1a00"/>
<circle cx="218.6" cy="382.5" r="4.15" fill="#A400F2" stroke="#1a0026"/>
<circle cx="232.1" cy="380.7" r="4.15" fill="#A400F2" stroke="#1a0026"/>
<circle cx="222.7" cy="391.3" r="4.15" fill="#A400F2" stroke="#1a0026"/>
<circle cx="229.2" cy="390.7" r="4.15" fill="#A400F2" stroke="#1a0026"/>
<circle cx="130.2" cy="304.0" r="4.15" fill="#A400F2" stroke="#1a0026"/>
<circle cx="168.6" cy="314.0" r="4.15" fill="#A400F2" stroke="#1a0026"/>
<circle cx="144.1" cy="317.9" r="4.15" fill="#A400F2" stroke="#1a0026"/>
<circle cx="154.7" cy="326.9" r="4.15" fill="#A400F2" stroke="#1a0026"/>
<circle cx="176.6" cy="325.2" r="4.15" fill="#A400F2" stroke="#1a0026"/>
<circle cx="183.2" cy="324.6" r="4.15" fill="#A400F2" stroke="#1a0026"/>
<circle cx="115.6" cy="339.1" r="4.15" fill="#A400F2" stroke="#1a0026"/>
<circle cx="118.3" cy="336.5" r="4.15" fill="#A400F2" stroke="#1a0026"/>
<circle cx="118.3" cy="329.9" r="4.15" fill="#A400F2" stroke="#1a0026"/>
<circle cx="119.8" cy="321.2" r="4.15" fill="#FFFF00" stroke="#1a1a00"/>
<circle cx="130.8" cy="322.6" r="4.15" fill="#FFFF00" stroke="#1a1a00"/>
<circle cx="124.9" cy="342.5" r="4.15" fill="#FFFF00" stroke="#1a1a00"/>
<circle cx="128.2" cy="346.4" r="4.15" fill="#FFFF00" stroke="#1a1a00"/>
<circle cx="129.5" cy="353.1" r="4.15" fill="#FFFF00" stroke="#1a1a00"/>
<circle cx="151.4" cy="334.5" r="4.15" fill="#FFFF00" stroke="#1a1a00"/>
<circle cx="147.4" cy="337.2" r="4.15" fill="#FFFF00" stroke="#1a1a00"/>
<circle cx="162" cy="331.9" r="4.15" fill="#FFFF00" stroke="#1a1a00"/>
<circle cx="161.3" cy="347.4" r="4.15" fill="#FFFF00" stroke="#1a1a00"/>
<circle cx="114.9" cy="374.7" r="4.15" fill="#FFFF00" stroke="#1a1a00"/>
<circle cx="159.8" cy="365.1" r="4.15" fill="#FFFF00" stroke="#1a1a00"/>
<circle cx="183.4" cy="365.1" r="4.15" fill="#FFFF00" stroke="#1a1a00"/>
<circle cx="171.4" cy="399.9" r="4.15" fill="#FFFF00" stroke="#1a1a00"/>
<circle cx="170.1" cy="399.7" r="4.15" fill="#FFFF00" stroke="#1a1a00"/>
<circle cx="266.2" cy="322.2" r="4.15" fill="#A400F2" stroke="#1a0026"/>
<circle cx="301.5" cy="330.4" r="4.15" fill="#A400F2" stroke="#1a0026"/>
<circle cx="298" cy="340.5" r="4.15" fill="#A400F2" stroke="#1a0026"/>
<circle cx="310.1" cy="340.1" r="4.15" fill="#A400F2" stroke="#1a0026"/>
<circle cx="296.8" cy="351.6" r="4.15" fill="#A400F2" stroke="#1a0026"/>
</g>
<g stroke-width="1" opacity="0.85">
<circle cx="240.2" cy="270.2" r="4.45" fill="#1fb01f" stroke="#1fb01f"/>
<circle cx="243" cy="270.8" r="4.45" fill="#1fb01f" stroke="#1fb01f"/>
<circle cx="241.6" cy="276.6" r="4.45" fill="#1fb01f" stroke="#1fb01f"/>
<circle cx="240.2" cy="270.2" r="4.45" fill="#00F000"/>
<circle cx="243" cy="270.8" r="4.45" fill="#00F000"/>
<circle cx="241.6" cy="276.6" r="4.45" fill="#00F000"/>
</g>
<!-- compass -->
<g stroke="#000" stroke-width="0.9" stroke-linejoin="miter">
<polygon points="49.2,20.9 43,43.7 49.2,49.6" fill="#000"/>
<polygon points="49.2,20.9 49.2,49.6 55.1,43.7" fill="#fff"/>
<polygon points="77.5,49.6 55.1,43.7 49.2,49.6" fill="#000"/>
<polygon points="77.5,49.6 49.2,49.6 55.1,55.7" fill="#fff"/>
<polygon points="49.2,78.7 55.1,55.7 49.2,49.6" fill="#000"/>
<polygon points="49.2,78.7 49.2,49.6 43,55.7" fill="#fff"/>
<polygon points="20.4,49.6 43,55.7 49.2,49.6" fill="#000"/>
<polygon points="20.4,49.6 49.2,49.6 43,43.7" fill="#fff"/>
</g>
<g font-size="19.5" fill="#000" text-anchor="middle">
<text x="48.7" y="17.5">N</text>
<text x="10" y="55.6">W</text>
<text x="85.4" y="55.6">E</text>
<text x="49" y="96.8">S</text>
</g>
<!-- title -->
<g font-size="12" font-weight="bold" fill="#111" stroke="#111" stroke-width="0.2">
<text x="381.3" y="10.7" textLength="302" lengthAdjust="spacingAndGlyphs">Prevalence of help seeking behaviour among married</text>
<text x="381.3" y="24.8" textLength="294.5" lengthAdjust="spacingAndGlyphs">women who were expereinced IPV , in Ethiopia 2016</text>
</g>
<!-- legend -->
<circle cx="394.7" cy="43.3" r="3.5" fill="#F77B7B" stroke="#222" stroke-width="1.2"/>
<circle cx="394.7" cy="62.7" r="4.2" fill="#A500F0" stroke="#222" stroke-width="1.2"/>
<circle cx="394.7" cy="82.3" r="4.2" fill="#FFFF00" stroke="#222" stroke-width="1.2"/>
<circle cx="394.7" cy="102.2" r="4" fill="#22EE22"/>
<g font-size="12" fill="#1e1e1e" stroke="#1e1e1e" stroke-width="0.15">
<text x="413.3" y="48">5.1 - 11%</text>
<text x="413.3" y="67.4">12 - 20%</text>
<text x="413.3" y="87">21 - 30%</text>
<text x="413.3" y="106.7">31 - 42%</text>
</g>
<!-- scale bar -->
<g stroke="#222" stroke-width="1.2" fill="none">
<path d="M118.7,540.3 L322.6,540.3"/>
<path d="M118.7,534.2 V540.3 M144,535.7 V540.3 M169.3,535.7 V540.3 M194.8,535.7 V540.3 M220.4,535.7 V540.3 M246,535.7 V540.3 M271.6,535.7 V540.3 M297.2,535.7 V540.3 M322.6,534.2 V540.3"/>
</g>
<g font-size="9" fill="#1e1e1e" stroke="#1e1e1e" stroke-width="0.12">
<text x="118.2" y="529.6" text-anchor="middle">0</text>
<text x="169.5" y="529.6" text-anchor="middle">160</text>
<text x="220" y="529.6" text-anchor="middle">320</text>
<text x="315.2" y="529.6">640 Kilometers</text>
</g>
</svg>
</body></html>
